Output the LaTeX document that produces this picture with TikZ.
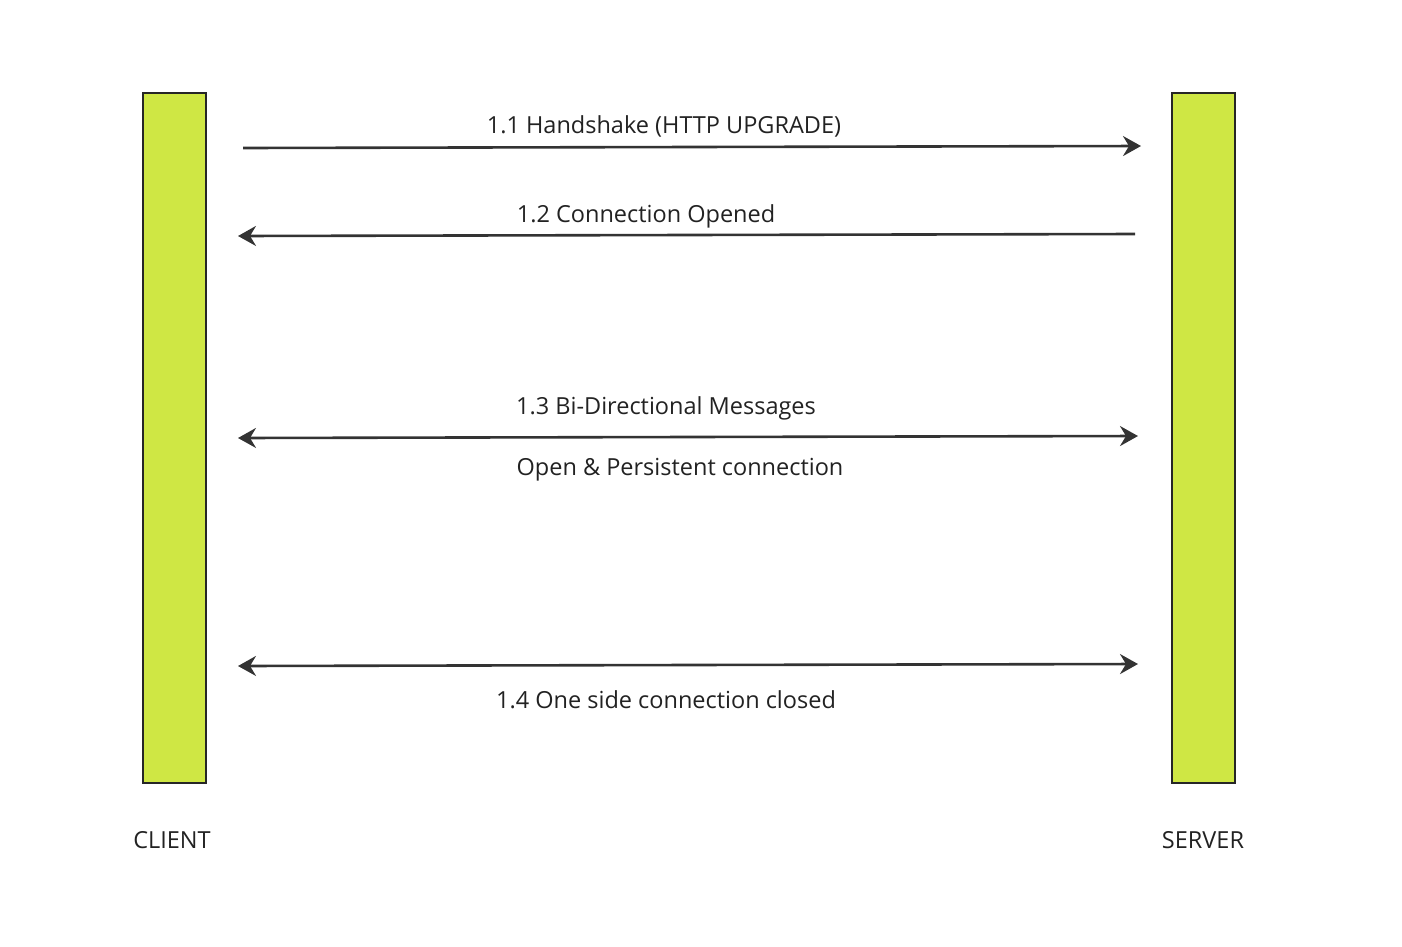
\documentclass[tikz,border=0pt]{standalone}
\usepackage{fontspec}
\setmainfont{Open Sans}
\usetikzlibrary{arrows.meta}
\definecolor{barfill}{HTML}{CFE744}
\definecolor{linecol}{HTML}{333333}
\definecolor{txtcol}{HTML}{222222}
\begin{document}
\begin{tikzpicture}[x=1pt,y=-1pt,
  bar/.style={draw=black!85,line width=2.8pt,fill=barfill,minimum width=63pt,minimum height=690pt,inner sep=0pt,anchor=north west},
  tip/.style={Stealth[length=18pt,width=20pt,inset=6pt]},
  msg/.style={draw=linecol,line width=2.6pt,-{Stealth[length=18pt,width=20pt,inset=6pt]}},
  bimsg/.style={draw=linecol,line width=2.6pt,{Stealth[length=18pt,width=20pt,inset=6pt]}-{Stealth[length=18pt,width=20pt,inset=6pt]}},
  lbl/.style={text=txtcol,font=\fontsize{23.5}{28}\selectfont,inner sep=0pt}]
\useasboundingbox (0,0) rectangle (1402,946);
\node[bar] (client) at (141.5,91.5) {};
\node[bar] (server) at (1170.5,91.5) {};
\coordinate (a1s) at (243,148); \coordinate (a1e) at (1141,146);
\coordinate (a2s) at (1135,234); \coordinate (a2e) at (238,236);
\coordinate (a3s) at (238,438); \coordinate (a3e) at (1138,436);
\coordinate (a4s) at (238,666); \coordinate (a4e) at (1138,664);
\draw[msg] (a1s) -- (a1e);
\draw[msg] (a2s) -- (a2e);
\draw[bimsg] (a3s) -- (a3e);
\draw[bimsg] (a4s) -- (a4e);
\node[lbl] (l1) at (664,126) {1.1 Handshake (HTTP UPGRADE)};
\node[lbl] (l2) at (646,216) {1.2 Connection Opened};
\node[lbl] (l3) at (666,408) {1.3 Bi-Directional Messages};
\node[lbl] (l3b) at (680,470) {Open \& Persistent connection};
\node[lbl] (l4) at (666,700) {1.4 One side connection closed};
\node[lbl] (cl) at (172,840) {CLIENT};
\node[lbl] (sv) at (1203,840) {SERVER};
\end{tikzpicture}
\end{document}
